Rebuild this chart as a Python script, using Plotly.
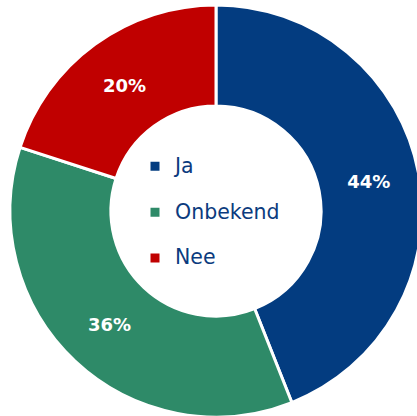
import plotly.graph_objects as go

categories = ["Ja", "Onbekend", "Nee"]
values = [44, 36, 20]
colors = ["#033C80", "#2E8A68", "#C00000"]

legend_labels = [f'<span style="font-size:20.5px">{c}</span><br>&nbsp;' for c in categories]

W, H = 432, 432
cx, cy, r = 216, 211, 206  # pixel centre (from top) and radius

fig = go.Figure(
    go.Pie(
        labels=legend_labels,
        values=values,
        sort=False,
        direction="clockwise",
        rotation=0,
        hole=0.51,
        marker=dict(colors=colors, line=dict(color="white", width=3)),
        textinfo="percent",
        textposition="inside",
        insidetextorientation="horizontal",
        textfont=dict(family="DejaVu Sans", size=18, color="white", weight="bold"),
        hoverinfo="none",
        domain=dict(
            x=[(cx - r) / W, (cx + r) / W],
            y=[(H - cy - r) / H, (H - cy + r) / H],
        ),
    )
)

fig.update_layout(
    width=W,
    height=H,
    margin=dict(l=0, r=0, t=0, b=0),
    paper_bgcolor="white",
    showlegend=True,
    legend=dict(
        x=135 / W,
        y=(H - 149) / H,
        xanchor="left",
        yanchor="top",
        valign="top",
        bgcolor="rgba(0,0,0,0)",
        font=dict(family="DejaVu Sans", size=16.5, color="#0B3B7E"),
    ),
    font=dict(family="DejaVu Sans"),
)

fig.write_html(
    "out.html",
    config={"displayModeBar": False},
    post_script="document.body.style.margin='0';document.body.style.overflow='hidden';",
)
